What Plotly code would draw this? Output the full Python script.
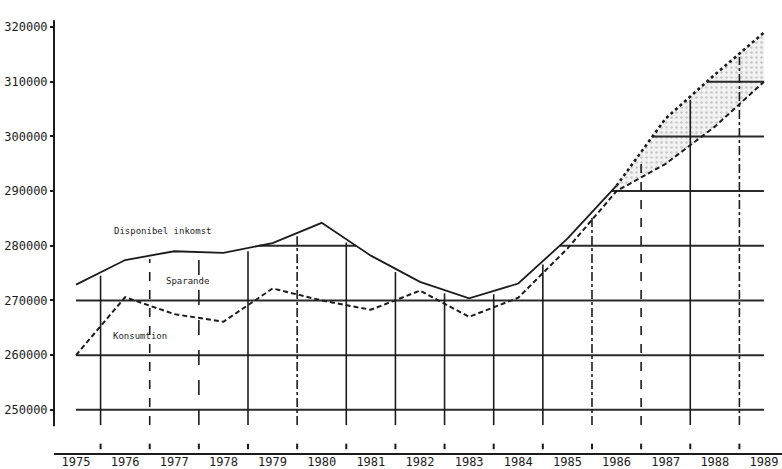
import numpy as np
import plotly.graph_objects as go

# ---------------- data ----------------
years = list(range(1975, 1990))
x_labels = [str(y) for y in years]

disp_years = list(range(1975, 1987))
disponibel = [272900, 277400, 279000, 278700, 280500, 284200, 278200,
              273400, 270400, 273100, 281300, 291000]

prog_years = [1986, 1987, 1988, 1989]
disponibel_prognos = [291000, 303300, 311300, 319000]

konsumtion = [260000, 270600, 267500, 266100, 272200, 270000, 268300,
              271800, 267000, 270500, 279500, 290000, 295000, 301800, 310000]

grid_levels = [250000, 260000, 270000, 280000, 290000, 300000, 310000]
y_ticks = [250000, 260000, 270000, 280000, 290000, 300000, 310000, 320000]

half_years = [y + 0.5 for y in years[:-1]]
vline_dash = ["solid", "dash", "longdash", "solid", "dashdot", "solid", "solid",
              "solid", "solid", "solid", "dashdot", "dash", "solid", "dashdot"]

INK = "#1c1c1c"
FONT = "DejaVu Sans Mono"

# upper envelope (income, actual + forecast)
upper_x = disp_years + prog_years[1:]
upper_y = disponibel + disponibel_prognos[1:]


def upper_at(x):
    return float(np.interp(x, upper_x, upper_y))


fig = go.Figure()

# ---- Sparande shading (forecast gap) ----
kons_prog = konsumtion[years.index(prog_years[0]):]
fig.add_trace(go.Scatter(x=prog_years, y=kons_prog, mode="lines",
                         line=dict(width=0), showlegend=False, hoverinfo="skip"))
fig.add_trace(go.Scatter(x=prog_years, y=disponibel_prognos, mode="lines",
                         line=dict(width=0), fill="tonexty",
                         fillcolor="rgba(235,235,235,0.6)",
                         fillpattern=dict(shape=".", fgcolor="#9a9a9a",
                                          bgcolor="rgba(242,242,242,1)",
                                          size=5, solidity=0.2),
                         showlegend=False, hoverinfo="skip"))

# ---- horizontal grid segments, only beneath the income curve ----
xs = np.linspace(years[0], years[-1], 3000)
ups = np.interp(xs, upper_x, upper_y)
for lvl in grid_levels:
    gx, gy = [], []
    inside = ups >= lvl
    i = 0
    n = len(xs)
    while i < n:
        if inside[i]:
            j = i
            while j + 1 < n and inside[j + 1]:
                j += 1
            gx += [xs[i], xs[j], None]
            gy += [lvl, lvl, None]
            i = j + 1
        else:
            i += 1
    fig.add_trace(go.Scatter(x=gx, y=gy, mode="lines",
                             line=dict(color="#2a2a2a", width=2),
                             showlegend=False, hoverinfo="skip"))

# ---- vertical drop lines ----
for hx, dsh in zip(half_years, vline_dash):
    fig.add_trace(go.Scatter(x=[hx, hx], y=[247200, upper_at(hx) - 600], mode="lines",
                             line=dict(color=INK, width=1.6, dash=dsh),
                             showlegend=False, hoverinfo="skip"))

# small tick marks on the x axis between the year labels
fig.add_trace(go.Scatter(x=half_years, y=[243300] * len(half_years), mode="markers",
                         marker=dict(symbol="line-ns", size=4,
                                     line=dict(color=INK, width=2)),
                         cliponaxis=False, showlegend=False, hoverinfo="skip"))

# ---- series ----
fig.add_trace(go.Scatter(x=years, y=konsumtion, mode="lines", name="Konsumtion",
                         line=dict(color=INK, width=2, dash="5px,3px"),
                         showlegend=False))
fig.add_trace(go.Scatter(x=disp_years, y=disponibel, mode="lines",
                         name="Disponibel inkomst",
                         line=dict(color=INK, width=1.8), showlegend=False))
fig.add_trace(go.Scatter(x=prog_years, y=disponibel_prognos, mode="lines",
                         name="Disponibel inkomst (prognos)",
                         line=dict(color=INK, width=2.6, dash="dot"),
                         showlegend=False))

# ---- in-chart labels ----
for txt, lx, ly in [("Disponibel inkomst", 1975.73, 282700),
                    ("Sparande", 1976.79, 273600),
                    ("Konsumtion", 1975.71, 263500)]:
    fig.add_annotation(x=lx, y=ly, text=txt, showarrow=False, xanchor="left",
                       yanchor="middle", font=dict(family=FONT, size=9, color=INK))

# y axis line (stops above the x axis)
fig.add_shape(type="line", xref="paper", x0=0, x1=0, yref="y",
              y0=247000, y1=321250, line=dict(color=INK, width=2))

fig.update_layout(
    width=782, height=469,
    margin=dict(l=54, r=0, t=20, b=16),
    paper_bgcolor="white", plot_bgcolor="white",
    showlegend=False,
    xaxis=dict(range=[1974.552, 1989.367], tickmode="array", tickvals=years,
               ticktext=x_labels, ticks="", showgrid=False, zeroline=False,
               showline=True, linecolor=INK, linewidth=2,
               tickfont=dict(family=FONT, size=12, color=INK),
               ticklabelstandoff=-3,
               automargin=False),
    yaxis=dict(range=[242100, 321300], tickmode="array", tickvals=y_ticks,
               ticktext=[str(v) for v in y_ticks], ticks="outside", ticklen=3,
               tickwidth=2, tickcolor=INK, showgrid=False, zeroline=False,
               showline=False, tickfont=dict(family=FONT, size=12, color=INK),
               automargin=False),
)

fig.write_html("out.html",
               config={"displayModeBar": False},
               post_script="document.body.style.margin='0';"
                           "document.body.style.padding='0';"
                           "document.documentElement.style.overflow='hidden';")
